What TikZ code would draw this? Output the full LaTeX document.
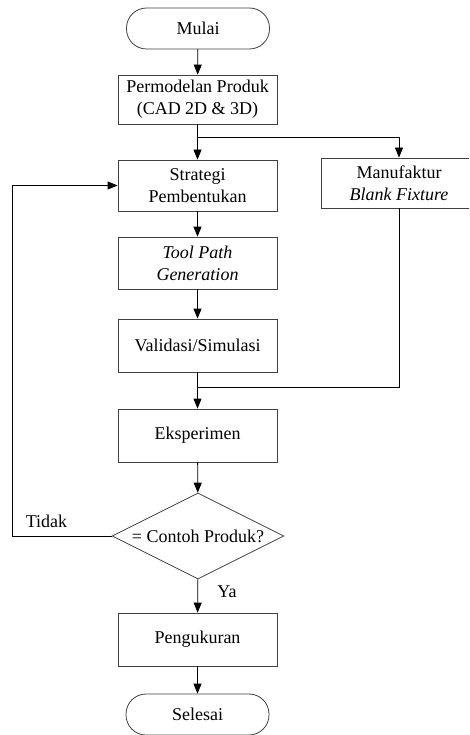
\documentclass[tikz,border=0pt]{standalone}
\usepackage{fontspec}
\setmainfont{Liberation Serif}
\usetikzlibrary{shapes.geometric,arrows.meta}
\begin{document}
\begin{tikzpicture}[x=1pt,y=-1pt,
  font=\fontsize{18}{22}\selectfont,
  every node/.style={inner sep=0pt, align=center},
  box/.style={draw=black!75, fill=white, line width=0.8pt, minimum width=159pt, minimum height=52pt},
  term/.style={draw=black!75, fill=white, line width=0.8pt, rounded corners=20pt, minimum width=143pt, minimum height=41pt},
  dec/.style={draw=black!75, fill=white, line width=0.8pt, diamond, shape aspect=2, minimum width=172pt, minimum height=86pt},
  arr/.style={draw=black, line width=0.8pt, -{Triangle[length=10pt,width=8pt]}},
  ln/.style={draw=black, line width=0.8pt}]
\useasboundingbox (0,0) rectangle (469,735);
\clip (0,0) rectangle (469,735);
\node[term] (mulai) at (198,28.5) {Mulai};
\node[box, minimum height=49pt] (perm) at (197.5,99.5) {Permodelan Produk\\(CAD 2D \& 3D)};
\node[box, minimum height=51pt] (strat) at (197.5,185.5) {Strategi\\Pembentukan};
\node[box] (tool) at (197.5,263) {\itshape Tool Path\\\itshape Generation};
\node[box, minimum height=53pt] (valid) at (197.5,345.5) {Validasi/Simulasi};
\node[box, minimum height=53pt] (eksp) at (197.5,435.5) {Eksperimen};
\node[dec] (cek) at (198,536) {= Contoh Produk?};
\node[box, minimum height=53pt] (peng) at (197.5,639.5) {Pengukuran};
\node[term] (sel) at (197.5,714.5) {Selesai};
\node[box, minimum width=156pt, minimum height=50pt] (manu) at (399,183) {Manufaktur\\\itshape Blank Fixture};
\coordinate (br) at (197.5,137);
\coordinate (jn) at (197.5,387);
\coordinate (lp) at (12,536);
\draw[arr] (mulai) -- (perm);
\draw[arr] (perm) -- (strat);
\draw[arr] (br) -| (manu);
\draw[arr] (strat) -- (tool);
\draw[arr] (tool) -- (valid);
\draw[arr] (valid) -- (eksp);
\draw[ln] (manu) |- (jn);
\draw[arr] (eksp) -- (cek);
\draw[arr] (cek) -- (peng);
\draw[arr] (peng) -- (sel);
\draw[arr] (cek) -- (lp) |- (strat);
\node[anchor=base] (tidak) at (46.5,527) {Tidak};
\node[anchor=base] (ya) at (227,597) {Ya};
\end{tikzpicture}
\end{document}
